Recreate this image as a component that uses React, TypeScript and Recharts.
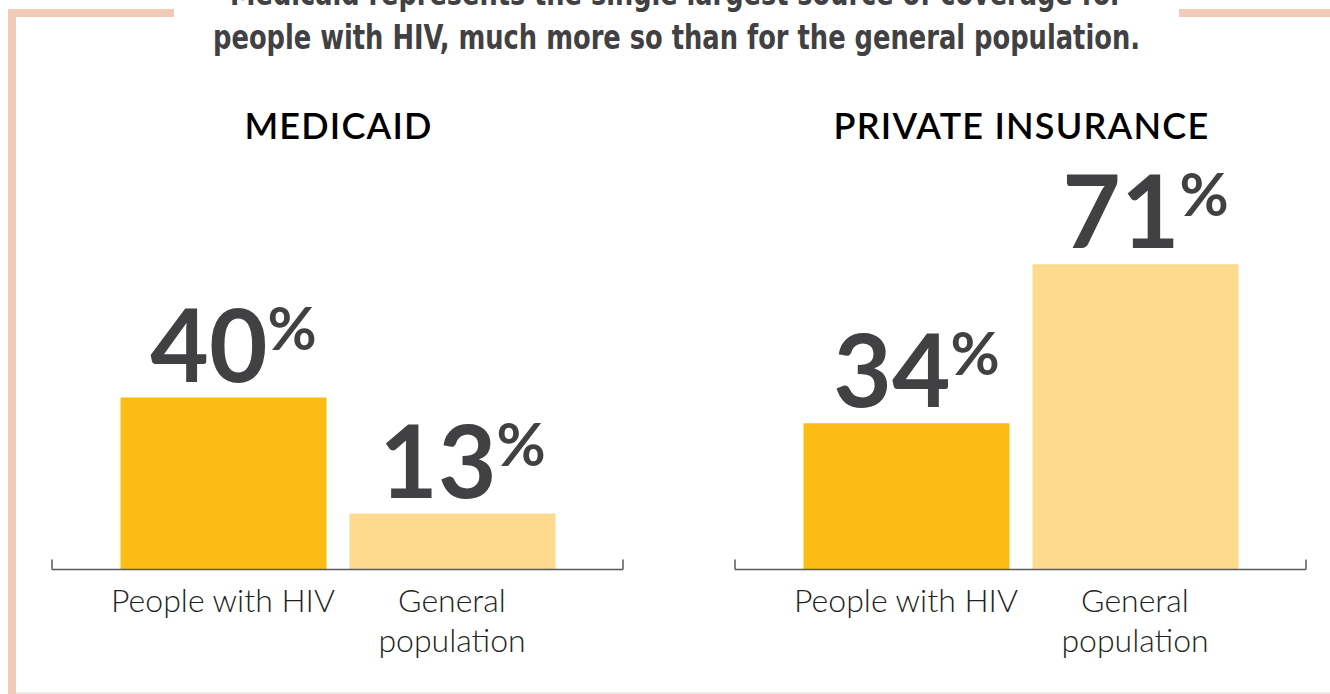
import React from 'react';
import { BarChart, Bar, XAxis, YAxis, LabelList, Cell, ReferenceLine } from 'recharts';

const titleLines = [
  'Medicaid represents the single largest source of coverage for',
  'people with HIV, much more so than for the general population.',
];
const titleWidths = [893, 927];
const groupTitles = ['MEDICAID', 'PRIVATE INSURANCE'];
const categoryLabels = ['People with HIV', 'General\npopulation'];
const medicaidValues = [40, 13];
const privateValues = [34, 71];
const barColors = ['#FDBC13', '#FEDA8E'];
const axisEnds = [0, 1];

const W = 1330;
const H = 694;
const FRAME = '#F2CAB8';
const DARK = '#414042';
const AXIS = '#58595B';

const CHART_W = 647;
const MARGIN = { top: 139.5, left: 52, right: 24, bottom: 0 };
const PLOT_W = CHART_W - MARGIN.left - MARGIN.right;
const Y_MAX = 100;
const PLOT_H = 430;
const END_TICK_PX = 10;

const ValueLabel = (props: any) => {
  const { x, y, width, value } = props;
  return (
    <text
      x={Number(x) + Number(width) / 2 + 10}
      y={Number(y) - 16}
      textAnchor="middle"
      fill={DARK}
      fontFamily="Lato, 'DejaVu Sans', sans-serif"
      fontWeight={700}
    >
      <tspan fontSize={101}>{value}</tspan>
      <tspan fontSize={60} dy={-32}>%</tspan>
    </text>
  );
};

const CategoryTick = (props: any) => {
  const { x, y, payload } = props;
  const lines = String(payload.value).split('\n');
  return (
    <text
      x={x}
      y={y}
      textAnchor="middle"
      fill="#231F20"
      fontFamily="Lato, 'DejaVu Sans', sans-serif"
      fontWeight={300}
      fontSize={32}
    >
      {lines.map((l, i) => (
        <tspan key={i} x={x} dy={i === 0 ? 42 : 40}>
          {l}
        </tspan>
      ))}
    </text>
  );
};

function Panel({ values, left }: { values: number[]; left: number }) {
  const data = categoryLabels.map((name, i) => ({ name, value: values[i] }));
  const tickUnits = (END_TICK_PX / PLOT_H) * Y_MAX;
  return (
    <div style={{ position: 'absolute', left, top: 0 }}>
      <BarChart width={CHART_W} height={H} data={data} margin={MARGIN} barGap={0}>
        <XAxis
          dataKey="name"
          type="category"
          padding={{ left: 56.5, right: 56.5 }}
          axisLine={{ stroke: AXIS, strokeWidth: 1.5 }}
          tickLine={false}
          tickSize={0}
          tickMargin={0}
          interval={0}
          height={124.5}
          tick={<CategoryTick />}
        />
        <XAxis xAxisId="edge" type="number" domain={[0, 1]} allowDataOverflow hide />
        <YAxis hide type="number" domain={[0, Y_MAX]} allowDataOverflow />
        {axisEnds.map((e) => (
          <ReferenceLine
            key={e}
            xAxisId="edge"
            segment={[
              { x: e, y: 0 },
              { x: e, y: tickUnits },
            ]}
            stroke={AXIS}
            strokeWidth={1.5}
            ifOverflow="visible"
          />
        ))}
        <Bar dataKey="value" barSize={206} isAnimationActive={false}>
          {data.map((d, i) => (
            <Cell key={d.name} fill={barColors[i]} />
          ))}
          <LabelList dataKey="value" content={<ValueLabel />} />
        </Bar>
      </BarChart>
    </div>
  );
}

export default function App() {
  const panelLefts = [0, 683];
  return (
    <div
      style={{
        position: 'absolute',
        left: 0,
        top: 0,
        width: W,
        height: H,
        overflow: 'hidden',
        background: '#fff',
      }}
    >
      <svg width={W} height={H} style={{ position: 'absolute', left: 0, top: 0 }}>
        <rect x={8} y={9} width={8} height={H - 9} fill={FRAME} />
        <rect x={8} y={9} width={166} height={8} fill={FRAME} />
        <rect x={1179} y={9} width={W - 1179} height={8} fill={FRAME} />
        <rect x={16} y={692} width={W - 16} height={2} fill="#EFE8E3" />
        {titleLines.map((t, i) => (
          <text
            key={i}
            x={676.5}
            y={5 + i * 43.5}
            textAnchor="middle"
            fill={DARK}
            fontFamily="'Liberation Sans Narrow', 'DejaVu Sans Condensed', sans-serif"
            fontWeight={700}
            fontSize={34}
            textLength={titleWidths[i]}
            lengthAdjust="spacingAndGlyphs"
          >
            {t}
          </text>
        ))}
        {groupTitles.map((t, i) => (
          <text
            key={t}
            x={panelLefts[i] + MARGIN.left + PLOT_W / 2 + 1}
            y={139}
            textAnchor="middle"
            fill="#000"
            fontFamily="Lato, 'DejaVu Sans', sans-serif"
            fontWeight={600}
            fontSize={36}
            letterSpacing={1.2}
          >
            {t}
          </text>
        ))}
      </svg>
      <Panel values={medicaidValues} left={panelLefts[0]} />
      <Panel values={privateValues} left={panelLefts[1]} />
    </div>
  );
}
